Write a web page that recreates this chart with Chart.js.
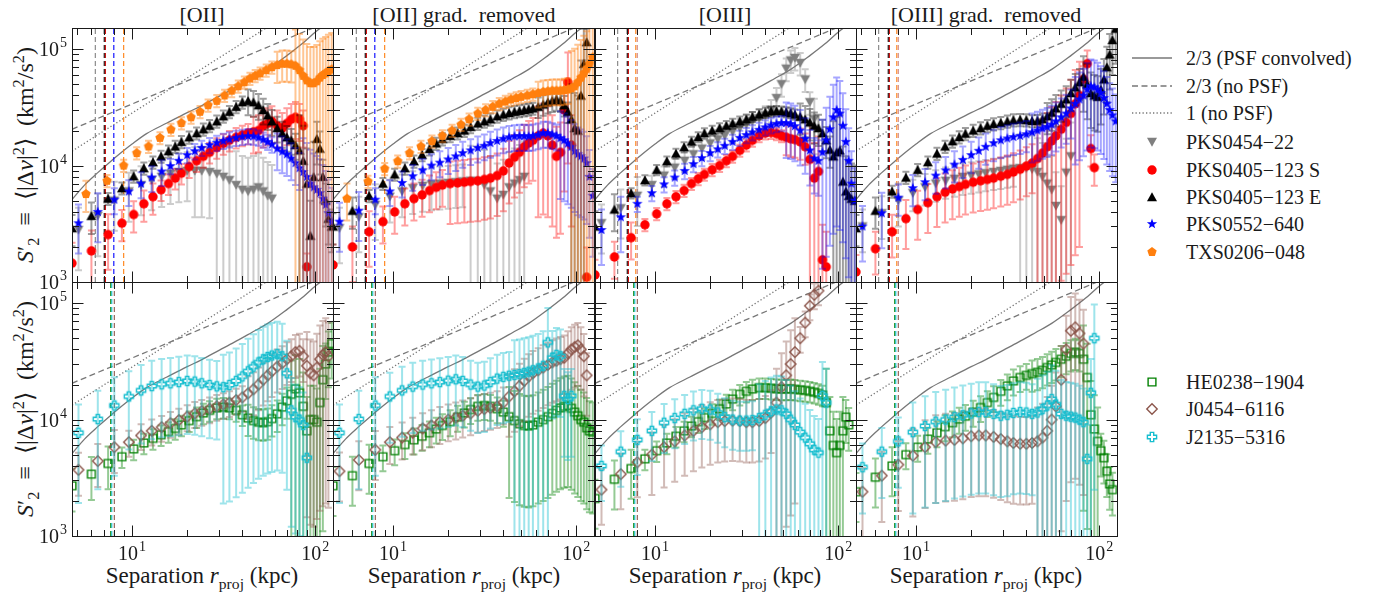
<!DOCTYPE html>
<html>
<head>
<meta charset="utf-8">
<title>Velocity structure functions</title>
<script src="https://cdn.jsdelivr.net/npm/chart.js@4.4.1/dist/chart.umd.min.js"></script>
<style>
  html, body { margin: 0; padding: 0; background: #fff; }
  body { position: relative; width: 1374px; height: 595px; overflow: hidden;
         font-family: "Liberation Serif", serif; color: #1a1a1a; }
  canvas.panel { position: absolute; }
  .txt { position: absolute; white-space: nowrap; transform: translate(-50%, -50%);
         font-family: "Liberation Serif", serif; }
  .title { font-size: 22px; }
  .ylab { font-size: 24px; transform: translate(-50%, -50%) rotate(-90deg); }
  .xlab { font-size: 23px; }
  sup, sub { font-size: 0.68em; line-height: 0; }
  .legrow { position: absolute; left: 1130px; height: 28px; display: flex; align-items: center;
            font-size: 20px; transform: translateY(-50%); font-family: "Liberation Serif", serif; }
  .legsym { width: 44px; height: 28px; display: flex; align-items: center; justify-content: center; }
  .legrow span { margin-left: 12px; }
</style>
</head>
<body>

<div class="txt title" style="left:202px;top:15px">[OII]</div>
<div class="txt title" style="left:464px;top:15px">[OII] grad.&nbsp; removed</div>
<div class="txt title" style="left:725px;top:15px">[OIII]</div>
<div class="txt title" style="left:986px;top:15px">[OIII] grad.&nbsp; removed</div>

<div class="txt ylab" style="left:25px;top:155px"><i>S</i>&prime;<sub>2</sub>&ensp;&equiv;&ensp;&lang;|&Delta;<i>v</i>|<sup>2</sup>&rang;&ensp;(km<sup>2</sup>/s<sup>2</sup>)</div>
<div class="txt ylab" style="left:25px;top:409px"><i>S</i>&prime;<sub>2</sub>&ensp;&equiv;&ensp;&lang;|&Delta;<i>v</i>|<sup>2</sup>&rang;&ensp;(km<sup>2</sup>/s<sup>2</sup>)</div>

<div class="txt xlab" style="left:202px;top:576px">Separation <i>r</i><sub>proj</sub> (kpc)</div>
<div class="txt xlab" style="left:464px;top:576px">Separation <i>r</i><sub>proj</sub> (kpc)</div>
<div class="txt xlab" style="left:725px;top:576px">Separation <i>r</i><sub>proj</sub> (kpc)</div>
<div class="txt xlab" style="left:986px;top:576px">Separation <i>r</i><sub>proj</sub> (kpc)</div>

<script>
// radial bins (kpc) of the three pixel grids
const rGridA = [4.7, 6.0, 7.4, 8.8, 10.2, 11.6, 13.0, 14.4, 15.8, 17.2, 18.6, 20.5, 22.5, 24.5, 26.5, 29, 31.5, 34, 37, 40, 43, 46, 49, 52, 55, 58, 62, 66, 70, 74, 78, 82, 86, 90, 94, 98, 102, 106, 110, 114, 118, 123];
const rGridB = [5.1, 6.5, 8.0, 9.6, 11.2, 12.8, 14.5, 16.2, 18, 20, 22, 24, 26.5, 29, 31.5, 34, 37, 40, 43, 46, 49, 52, 55, 58, 62, 66, 70, 74, 78, 82, 86, 90, 94, 98, 102, 106, 110, 114, 118, 123];
const rGridC = [5.6, 7.3, 9.0, 10.6, 12.3, 14.2, 16.3, 18.6, 21, 23.5, 26, 29, 32, 35, 38, 41, 44, 47, 50, 54, 58, 62, 66, 70, 74, 78, 82, 86, 90, 94, 98, 102, 106, 110, 114, 118, 123];

// S2' in 10^3 km^2/s^2, one value per bin (null = empty bin)
// error tables: [upper r of range, fractional 1-sigma error]

// ---- [OII]
const oii_PKS0454 = [2.8, 3.7, 5.0, 6.0, 6.8, 7.5, 8.0, 8.5, 8.8, 9.0, 9.0, 9.0, 8.8, 8.5, 8.0, 7.5, 6.8, 6.2, 6.0, 6.2, 6.5, 6.0, 5.5, 5.2];
const oii_PKS0405S = [1.45, 1.85, 2.55, 3.2, 3.8, 4.7, 5.4, 6.2, 7.0, 7.8, 8.6, 9.8, 11.0, 12.0, 13.0, 14.3, 15.5, 16.5, 17.5, 18.3, 19.0, 19.5, 20.0, 22, 23, 24, 22, 21, 23, 25, 26, 25, 22, 1.35];
const oii_PKS0405E = [2.9, 3.7, 5.2, 6.4, 8.1, 9.5, 10.7, 12.0, 13.3, 14.6, 16.0, 17.5, 19, 20.5, 22, 24, 26.5, 29, 32, 35, 36, 35, 33, 30, 27, 24, 21, 19, 17.5, 16.5, 15, 13.5, 11, 7, 2.5, 8, 17, 14, 8, 5, 3.5, 3.0];
const oii_PKS0552 = [3.2, 4.0, 5.1, 6.0, 7.0, 7.9, 8.9, 9.9, 11, 12.3, 13.3, 14.2, 15, 15.7, 16.3, 16.8, 17.3, 17.7, 17.9, 17.8, 17.4, 16.7, 16, 15.2, 14.0, 13.2, 12.5, 11.5, 10.5, 9.5, 8.8, 8, 7, 6.5, 6.2, 5.8, 5.2, 4.6, 3.9, 3.3];
const oii_TXS0206 = [5.7, 7.4, 10.0, 12.8, 14.6, 17.3, 20.4, 23.2, 26, 29, 33, 36, 40, 44, 48, 52, 56, 59, 62, 66, 70, 73, 75, 75, 74, 72, 66, 59, 54, 51, 51, 53, 57, 60, 62, 65, 67];
const oiiErr_PKS0454 = [[7, 0.55], [20, 0.45], [28, 0.6], [200, 0.95]];
const oiiErr_PKS0405S = [[8, 0.5], [14, 0.3], [45, 0.2], [87, 0.35], [200, 0.3]];
const oiiErr_PKS0405E = [[7, 0.3], [40, 0.12], [80, 0.25], [100, 1.0], [200, 0.4]];
const oiiErr_PKS0552 = [[7, 0.45], [15, 0.25], [60, 0.15], [85, 0.35], [200, 0.95]];
const oiiErr_TXS0206 = [[7, 0.3], [60, 0.12], [75, 0.3], [200, 1.05]];

// ---- [OII] gradient removed
const oiiG_PKS0454 = [2.9, 3.6, 4.6, 5.4, 6.0, 6.4, 6.7, 6.9, 7.0, 7.1, 7.2, 7.3, 7.4, 7.3, 6.8, 6.0, 5.2, 5.6, 6.5, 7.0, 7.5, 8.0];
const oiiG_PKS0405S = [1.4, 2.0, 2.7, 3.3, 4.0, 4.7, 5.2, 5.6, 6.1, 6.5, 6.8, 7.0, 7.1, 7.2, 7.3, 7.4, 7.6, 7.8, 8.2, 9.0, 10.5, 11.8, 13, 14.5, 15.6, 16.5, 18, 19, 18, 15, 12, 13, 30, 52, 15, null, null, null, null, 1.1];
const oiiG_PKS0405E = [3.0, 4.1, 5.5, 7.0, 8.4, 9.5, 10.9, 12.4, 13.9, 15.5, 16.9, 18, 19, 20, 21.5, 23, 24, 25, 26.5, 27.5, 28.3, 29, 29.5, 30, 30.5, 31, 32, 33.5, 35, 36, 37, 36, 33, 29, 25, 21, 20, 40, 75, 115];
const oiiG_PKS0552 = [3.3, 4.1, 5.1, 6.0, 7.1, 8.1, 9.1, 10, 10.6, 11.3, 12, 12.8, 13.5, 14.2, 14.8, 15.6, 16.3, 17, 17.5, 17.8, 17.9, 17.9, 17.8, 18, 18.4, 19, 19, 18.5, 18, 17.2, 16.5, 15.5, 14.5, 13.3, 12.5, 12, 11.5, 10.5, 8, 5.5];
const oiiG_TXS0206 = [5.2, 7.3, 9.4, 10.9, 12.8, 14.6, 16.2, 18, 20, 22.5, 25, 28, 30, 32, 34, 35.5, 37, 38, 39, 40, 41, 42, 43, 43.5, 44, 44, 44, 44.5, 45, 46, 48, 52, 57, 62, 68, 75, 85];
const oiiGErr_PKS0454 = [[8, 0.5], [25, 0.4], [200, 1.0]];
const oiiGErr_PKS0405S = [[8, 0.5], [20, 0.35], [60, 0.55], [200, 0.8]];
const oiiGErr_PKS0405E = [[7, 0.3], [60, 0.12], [90, 0.2], [110, 1.0], [200, 0.3]];
const oiiGErr_PKS0552 = [[7, 0.45], [20, 0.25], [80, 0.25], [200, 0.7]];
const oiiGErr_TXS0206 = [[7, 0.35], [60, 0.12], [92, 0.25], [200, 1.1]];

// ---- [OIII]
const oiii_PKS0454 = [3.2, 4.3, 5.5, 6.8, 8.2, 9.6, 11, 12.5, 14, 15.5, 16.8, 18, 19.5, 21, 22.5, 24, 25.5, 27, 30, 38, 50, 68, 80, 84, 76, 55, 35, 25];
const oiii_PKS0405S = [1.15, 1.64, 2.4, 3.1, 3.85, 4.7, 5.4, 6.1, 7.0, 7.7, 8.4, 9.2, 10, 11, 12, 13.5, 15, 16.5, 18, 19, 19.2, 18.8, 18, 17.5, 17, 16.7, 16, 14.5, 11.3, 7.8, 8.9, 1.55, 1.35];
const oiii_PKS0405E = [3.0, 4.2, 5.8, 7.5, 9.2, 10.9, 12.7, 14.4, 16.1, 17.6, 19, 20, 21, 22, 23, 24, 25, 26.3, 27.5, 28.5, 29.2, 29.5, 29.3, 28.8, 28.3, 27.5, 26.3, 25, 23.5, 22, 21, 19, 16.5, 13.7, 12, 13, 13.5, 7.3, 6, 5.5, 5.2, 5.0];
const oiii_PKS0552 = [2.8, 3.6, 4.7, 5.8, 6.9, 7.9, 9, 10.3, 11.6, 12.8, 13.8, 14.8, 16, 17.3, 18.3, 19.3, 20.3, 21.3, 22.2, 22.8, 23.2, 23.2, 22.8, 21.8, 20, 17, 13.5, 11.5, 11, 13, 16.5, 20.5, 26, 30, 28, 22, 16, 11, 7, 5];
const oiiiErr_PKS0454 = [[8, 0.45], [40, 0.2], [70, 0.22], [200, 0.5]];
const oiiiErr_PKS0405S = [[8, 0.35], [50, 0.12], [66, 0.3], [200, 1.0]];
const oiiiErr_PKS0405E = [[7, 0.35], [60, 0.1], [90, 0.3], [200, 1.0]];
const oiiiErr_PKS0552 = [[7, 0.5], [50, 0.15], [80, 0.5], [200, 0.9]];

// ---- [OIII] gradient removed
const oiiiG_PKS0454 = [3.0, 3.9, 5.0, 5.8, 6.5, 7.0, 7.4, 7.7, 8.0, 8.2, 8.4, 8.6, 8.8, 9.0, 9.2, 9.4, 9.5, 9.5, 9.3, 8.8, 8.0, 7.0, 6.2, 4.5, 3.4, 8.7, 12];
const oiiiG_PKS0405S = [1.22, 1.93, 2.7, 3.5, 4.2, 4.8, 5.4, 5.9, 6.3, 6.6, 6.9, 7.2, 7.4, 7.6, 7.8, 8.1, 8.4, 8.8, 9.3, 9.9, 10.5, 11.5, 12.8, 14.5, 16.3, 18, 20.5, 23.5, 28, 34, 40, 55, 75, 14, 9.6];
const oiiiG_PKS0405E = [2.9, 4.1, 6.0, 7.9, 9.2, 10.7, 12.7, 14.6, 16.2, 17.6, 18.8, 20, 21, 22, 22.8, 23.3, 24, 24.6, 24.8, 24.6, 24.2, 24.3, 25, 26.5, 28.5, 31, 34, 37, 42, 47, 52, 58, 50, 42, 40, 39, 45, 55, 70, 90, 120, 150];
const oiiiG_PKS0552 = [3.0, 3.9, 5.3, 6.4, 7.2, 8.2, 9.1, 10.2, 11.2, 12.3, 13.4, 14.5, 15.6, 16.5, 17.1, 17.6, 18, 18.6, 19.3, 20, 20.8, 21.5, 22.5, 24, 26, 28, 31, 34, 37, 40, 45, 48, 47, 45, 42, 38, 34, 30, 27, 24];
const oiiiGErr_PKS0454 = [[8, 0.4], [35, 0.3], [200, 0.95]];
const oiiiGErr_PKS0405S = [[8, 0.4], [45, 0.45], [80, 0.95], [200, 0.3]];
const oiiiGErr_PKS0405E = [[7, 0.3], [50, 0.12], [80, 0.3], [200, 0.5]];
const oiiiGErr_PKS0552 = [[7, 0.5], [40, 0.3], [70, 0.45], [200, 0.7]];

// ---- second sample, [OII]
const oii_HE0238 = [2.7, 3.4, 4.2, 4.8, 5.6, 6.3, 6.9, 7.4, 7.9, 8.4, 9.0, 9.8, 10.6, 11.4, 12, 12.6, 12.8, 12.6, 12, 11, 10.3, 9.8, 9.5, 9.4, 9.6, 10.2, 11.2, 12.8, 14.5, 16.5, 18.4, 17, 13, 8, 10, 10, 9.5, 14, 22, 30, 38, 45];
const oii_J0454 = [3.7, 4.4, 5.8, 6.4, 7.3, 8.0, 8.6, 9.3, 9.9, 10.6, 11.3, 11.8, 12.4, 13, 13.5, 14, 14.7, 15.5, 16.8, 18.2, 20, 22, 24, 26, 28.5, 30.5, 33, 35, 38, 39, 35, 29, 25, 24, 28, 33, 36, 38, 35];
const oii_J2135 = [7.7, 10.1, 13.2, 15.8, 17.8, 19.4, 20.1, 20.5, 21, 21.5, 21.2, 20.5, 19.8, 19.3, 19, 19.8, 21.5, 23.5, 26, 28.5, 31, 33, 34.5, 35.5, 36.5, 35, 25, 12, 10.5, 10, 9, 4.7];
const oiiErr_HE0238 = [[8, 0.4], [40, 0.2], [70, 0.3], [112, 0.95], [200, 0.5]];
const oiiErr_J0454 = [[8, 0.4], [40, 0.25], [86, 0.4], [200, 0.95]];
const oiiErr_J2135 = [[8, 0.75], [30, 0.65], [200, 0.9]];

// ---- second sample, [OII] gradient removed
const oiiG_HE0238 = [2.7, 3.3, 4.2, 4.8, 5.4, 6.1, 6.7, 7.2, 7.7, 8.3, 8.9, 9.6, 10.5, 11.4, 12.2, 13, 13.2, 13, 12.4, 11.6, 10.6, 9.8, 9.2, 8.9, 8.8, 9.0, 9.5, 10, 10.6, 11.3, 12, 12.6, 13, 13.2, 12.5, 11.6, 10.8, 10, 9.5, 8.5, 8, 7.8];
const oiiG_J0454 = [3.6, 4.5, 5.5, 6.4, 7.0, 7.7, 8.4, 8.9, 9.5, 10, 10.4, 10.8, 11.3, 11.9, 12.3, 12.6, 13, 14, 15.8, 17.5, 19.5, 21.5, 23.5, 25, 26.5, 28, 29.5, 31, 32, 33, 34, 37, 40, 42, 43.5, 40, 35, 24];
const oiiG_J2135 = [7.7, 10.1, 13.2, 15.8, 17.8, 19.2, 20, 20.5, 21, 21.6, 22.2, 21.5, 20, 19.2, 19.6, 21, 22.5, 23.3, 23.8, 24.2, 24.6, 25.2, 25.8, 26.5, 27.5, 29, 46, 34, 36, 35, 16, 15, 16];
const oiiGErr_HE0238 = [[8, 0.45], [40, 0.25], [200, 0.8]];
const oiiGErr_J0454 = [[8, 0.45], [40, 0.35], [200, 0.55]];
const oiiGErr_J2135 = [[8, 0.75], [45, 0.6], [70, 0.98], [200, 0.7]];

// ---- second sample, [OIII]
const oiii_HE0238 = [2.1, 3.07, 3.8, 4.6, 5.4, 6.3, 7.2, 8.0, 8.8, 9.6, 10.4, 11.3, 12.4, 13.6, 15, 16.5, 17.5, 18.3, 18.8, 18.8, 18.6, 18.4, 18.3, 18.3, 18.4, 18.2, 18, 17.8, 17.5, 17.2, 16.8, 16.3, 14, 8, 6, 5.2, 6, 8, 10.5, 9];
const oiii_J0454 = [2.5, 3.4, 4.3, 5.0, 5.8, 6.5, 7.3, 8.0, 8.6, 9.1, 9.5, 9.7, 9.8, 9.7, 9.5, 9.5, 9.7, 10.3, 11.5, 14, 19, 24, 30, 38, 50, 68, 95, 118, 128];
const oiii_J2135 = [4.0, 5.3, 6.7, 8.0, 9.4, 10.3, 11.2, 12, 12.4, 12.2, 11.5, 10.5, 10, 9.8, 9.8, 9.9, 10.3, 11, 11.8, 12.2, 12, 11.2, 10, 9, 7.8, 7, 6.2, 5.5, 5.2, 16, 14];
const oiiiErr_HE0238 = [[8, 0.45], [40, 0.2], [85, 0.2], [106, 0.95], [200, 0.4]];
const oiiiErr_J0454 = [[8, 0.5], [44, 0.55], [58, 0.95], [200, 0.25]];
const oiiiErr_J2135 = [[8, 0.5], [35, 0.45], [200, 0.95]];

// ---- second sample, [OIII] gradient removed
const oiiiG_HE0238 = [2.4, 3.2, 4.0, 5.0, 5.8, 6.8, 7.7, 8.7, 9.4, 10.1, 10.7, 11.6, 12.7, 14, 15.5, 17.5, 19.5, 21.5, 23, 24, 24.8, 25.5, 26.5, 28, 29.5, 31, 33, 35, 37, 38, 37, 33, 23, 11, 8.3, 6.5, 5.4, 4.7, 3.6, 2.8, 2.5];
const oiiiG_J0454 = [2.4, 3.3, 4.1, 4.9, 5.8, 6.4, 6.6, 6.7, 6.9, 7.2, 7.3, 7.3, 7.1, 6.8, 6.5, 6.3, 6.2, 6.2, 6.3, 6.5, 7, 8, 10, 13, 22, 40, 58, 62, 55, 45];
const oiiiG_J2135 = [3.9, 5.3, 6.5, 7.8, 8.8, 9.6, 10, 10.5, 10.9, 11.3, 11.6, 11.6, 11.2, 10.8, 11, 11.4, 11.6, 11.5, 11.2, 11.5, 12.3, 13.2, 15, 13.5, 11.2, 10.8, 10.6, 10.4, 10, 9.5, 4.6, 17, 50];
const oiiiGErr_HE0238 = [[8, 0.45], [40, 0.25], [78, 0.3], [100, 0.95], [200, 0.4]];
const oiiiGErr_J0454 = [[8, 0.6], [45, 0.7], [200, 0.95]];
const oiiiGErr_J2135 = [[8, 0.6], [45, 0.8], [200, 0.95]];

// model curves (10^3 km^2/s^2)
const psfConvR = [4.7, 5.5, 6.5, 7.5, 8.5, 10, 12, 15.5, 20, 23.6, 30, 36, 45, 55, 70, 84, 101, 125];
const psfConvS = [5.1, 6.8, 8.7, 10.6, 12.5, 15.3, 18.8, 23.2, 28.5, 32.3, 39.5, 46, 56, 67, 88, 110, 142, 180];
const noPsf23R = [4.7, 105];
const noPsf23S = [20.5, 160];
const noPsf1R = [4.7, 55];
const noPsf1S = [13.3, 155];

// PSF FWHM markers (kpc)
const fwhmOII = [6.3, 7.05, 7.15, 7.95, 9.0];
const fwhmOIII = [6.25, 7.05, 7.15, 7.85, 8.0];
const fwhmLow = [7.65, 7.75, 8.0];

const xTickLabels = [10, 100];
const yTickLabels = [1e3, 1e4, 1e5];

const X_MIN = 4.7, X_MAX = 125, Y_MIN = 1e3, Y_MAX = 1.52e5;
const PANEL_W = 261, PANEL_H = 254;
const colLeft = [72, 333, 595, 856];
const rowTop = [28, 282];
const FONT = '"Liberation Serif", serif';

const styles = {
  PKS0454:  { label: 'PKS0454\u221222',     grid: rGridB, marker: 'v', color: '#7f7f7f', bar: 'rgba(127,127,127,0.4)' },
  PKS0405S: { label: 'PKS0405\u2212123 S',  grid: rGridA, marker: 'o', color: '#ff0000', bar: 'rgba(255,0,0,0.38)' },
  PKS0405E: { label: 'PKS0405\u2212123 E',  grid: rGridA, marker: '^', color: '#000000', bar: 'rgba(0,0,0,0.38)' },
  PKS0552:  { label: 'PKS0552\u2212640',    grid: rGridB, marker: '*', color: '#0000ff', bar: 'rgba(0,0,255,0.35)' },
  TXS0206:  { label: 'TXS0206\u2212048',    grid: rGridC, marker: 'p', color: '#ff7f0e', bar: 'rgba(255,127,14,0.45)' },
  HE0238:   { label: 'HE0238\u22121904',    grid: rGridA, marker: 's', color: '#008000', bar: 'rgba(0,128,0,0.42)' },
  J0454:    { label: 'J0454\u22126116',     grid: rGridB, marker: 'D', color: '#8c564b', bar: 'rgba(140,86,75,0.4)' },
  J2135:    { label: 'J2135\u22125316',     grid: rGridB, marker: 'P', color: '#17becf', bar: 'rgba(23,190,207,0.42)' },
};

const panels = [
  { col: 0, row: 0, fwhm: fwhmOII, fwhmColors: ['#808080', '#000000', '#cc0000', '#0000ff', '#ff7f0e'],
    series: [['PKS0454', oii_PKS0454, oiiErr_PKS0454], ['PKS0405S', oii_PKS0405S, oiiErr_PKS0405S],
             ['PKS0405E', oii_PKS0405E, oiiErr_PKS0405E], ['PKS0552', oii_PKS0552, oiiErr_PKS0552],
             ['TXS0206', oii_TXS0206, oiiErr_TXS0206]] },
  { col: 1, row: 0, fwhm: fwhmOII, fwhmColors: ['#808080', '#000000', '#cc0000', '#0000ff', '#ff7f0e'],
    series: [['PKS0454', oiiG_PKS0454, oiiGErr_PKS0454], ['PKS0405S', oiiG_PKS0405S, oiiGErr_PKS0405S],
             ['PKS0405E', oiiG_PKS0405E, oiiGErr_PKS0405E], ['PKS0552', oiiG_PKS0552, oiiGErr_PKS0552],
             ['TXS0206', oiiG_TXS0206, oiiGErr_TXS0206]] },
  { col: 2, row: 0, fwhm: fwhmOIII, fwhmColors: ['#808080', '#000000', '#cc0000', '#ff7f0e', '#d08a8a'],
    series: [['PKS0454', oiii_PKS0454, oiiiErr_PKS0454], ['PKS0405S', oiii_PKS0405S, oiiiErr_PKS0405S],
             ['PKS0405E', oiii_PKS0405E, oiiiErr_PKS0405E], ['PKS0552', oiii_PKS0552, oiiiErr_PKS0552]] },
  { col: 3, row: 0, fwhm: fwhmOIII, fwhmColors: ['#808080', '#000000', '#cc0000', '#ff7f0e', '#d08a8a'],
    series: [['PKS0454', oiiiG_PKS0454, oiiiGErr_PKS0454], ['PKS0405S', oiiiG_PKS0405S, oiiiGErr_PKS0405S],
             ['PKS0405E', oiiiG_PKS0405E, oiiiGErr_PKS0405E], ['PKS0552', oiiiG_PKS0552, oiiiGErr_PKS0552]] },
  { col: 0, row: 1, fwhm: fwhmLow, fwhmColors: ['#008000', '#17becf', '#8c564b'],
    series: [['HE0238', oii_HE0238, oiiErr_HE0238], ['J0454', oii_J0454, oiiErr_J0454], ['J2135', oii_J2135, oiiErr_J2135]] },
  { col: 1, row: 1, fwhm: fwhmLow, fwhmColors: ['#008000', '#17becf', '#8c564b'],
    series: [['HE0238', oiiG_HE0238, oiiGErr_HE0238], ['J0454', oiiG_J0454, oiiGErr_J0454], ['J2135', oiiG_J2135, oiiGErr_J2135]] },
  { col: 2, row: 1, fwhm: fwhmLow, fwhmColors: ['#008000', '#17becf', '#8c564b'],
    series: [['HE0238', oiii_HE0238, oiiiErr_HE0238], ['J0454', oiii_J0454, oiiiErr_J0454], ['J2135', oiii_J2135, oiiiErr_J2135]] },
  { col: 3, row: 1, fwhm: fwhmLow, fwhmColors: ['#008000', '#17becf', '#8c564b'],
    series: [['HE0238', oiiiG_HE0238, oiiiGErr_HE0238], ['J0454', oiiiG_J0454, oiiiGErr_J0454], ['J2135', oiiiG_J2135, oiiiGErr_J2135]] },
];

// small offscreen canvases used as point styles
function makeMarker(kind, color) {
  const s = 14;
  const c = document.createElement('canvas');
  c.width = s; c.height = s;
  const g = c.getContext('2d');
  g.translate(s / 2, s / 2);
  g.fillStyle = color;
  g.strokeStyle = color;
  g.lineWidth = 1.4;
  g.beginPath();
  if (kind === 'v') {
    g.moveTo(-5, -4.3); g.lineTo(5, -4.3); g.lineTo(0, 4.8); g.closePath(); g.fill();
  } else if (kind === '^') {
    g.moveTo(-5, 4.3); g.lineTo(5, 4.3); g.lineTo(0, -4.8); g.closePath(); g.fill();
  } else if (kind === 'o') {
    g.arc(0, 0, 4.7, 0, Math.PI * 2); g.fill();
  } else if (kind === '*') {
    for (let k = 0; k < 10; k++) {
      const rad = k % 2 === 0 ? 5.4 : 2.2;
      const a = -Math.PI / 2 + k * Math.PI / 5;
      k === 0 ? g.moveTo(rad * Math.cos(a), rad * Math.sin(a)) : g.lineTo(rad * Math.cos(a), rad * Math.sin(a));
    }
    g.closePath(); g.fill();
  } else if (kind === 'p') {
    for (let k = 0; k < 5; k++) {
      const a = -Math.PI / 2 + k * 2 * Math.PI / 5;
      k === 0 ? g.moveTo(4.9 * Math.cos(a), 4.9 * Math.sin(a)) : g.lineTo(4.9 * Math.cos(a), 4.9 * Math.sin(a));
    }
    g.closePath(); g.fill();
  } else if (kind === 's') {
    g.rect(-3.9, -3.9, 7.8, 7.8); g.stroke();
  } else if (kind === 'D') {
    g.moveTo(0, -5.2); g.lineTo(5.2, 0); g.lineTo(0, 5.2); g.lineTo(-5.2, 0); g.closePath(); g.stroke();
  } else if (kind === 'P') {
    const w = 1.7, l = 4.6;
    g.moveTo(-w, -l); g.lineTo(w, -l); g.lineTo(w, -w); g.lineTo(l, -w); g.lineTo(l, w); g.lineTo(w, w);
    g.lineTo(w, l); g.lineTo(-w, l); g.lineTo(-w, w); g.lineTo(-l, w); g.lineTo(-l, -w); g.lineTo(-w, -w);
    g.closePath(); g.stroke();
  }
  return c;
}

function fracAt(table, r) {
  for (const [rMax, f] of table) if (r <= rMax) return f;
  return table[table.length - 1][1];
}

// error bars, drawn just before each series so later series sit on top
const errorBars = {
  id: 'errorBars',
  beforeDatasetDraw(chart, args) {
    const ds = chart.data.datasets[args.index];
    if (!ds.errFrac) return;
    const { ctx, chartArea: a, scales: { x, y } } = chart;
    ctx.save();
    ctx.beginPath();
    ctx.rect(a.left, a.top, a.right - a.left, a.bottom - a.top);
    ctx.clip();
    ctx.strokeStyle = ds.barColor;
    ctx.lineWidth = 2;
    ds.data.forEach((p, i) => {
      const f = ds.errFrac[i];
      const px = x.getPixelForValue(p.x);
      const yTop = y.getPixelForValue(p.y * (1 + f));
      const lo = p.y * (1 - f);
      const yBot = lo > 0 ? y.getPixelForValue(lo) : a.bottom + 10;
      ctx.beginPath();
      ctx.moveTo(px, yTop); ctx.lineTo(px, yBot);
      ctx.moveTo(px - 3.5, yTop); ctx.lineTo(px + 3.5, yTop);
      if (lo > 0) { ctx.moveTo(px - 3.5, yBot); ctx.lineTo(px + 3.5, yBot); }
      ctx.stroke();
    });
    ctx.restore();
  }
};

function drawPow(ctx, exp, x, y, align) {
  ctx.font = '20px ' + FONT;
  const wb = ctx.measureText('10').width;
  ctx.font = '14px ' + FONT;
  const we = ctx.measureText(String(exp)).width;
  const x0 = align === 'right' ? x - wb - we - 1 : x - (wb + we + 1) / 2;
  ctx.textAlign = 'left';
  ctx.textBaseline = 'alphabetic';
  ctx.font = '20px ' + FONT;
  ctx.fillText('10', x0, y);
  ctx.font = '14px ' + FONT;
  ctx.fillText(String(exp), x0 + wb + 1, y - 9);
}

// frame, inward log ticks on all four sides, tick labels on outer panels
const frame = {
  id: 'frame',
  afterDraw(chart, args, opts) {
    const { ctx, chartArea: a, scales: { x, y } } = chart;
    ctx.save();
    ctx.strokeStyle = '#1a1a1a';
    ctx.fillStyle = '#1a1a1a';
    ctx.lineWidth = 1;
    const L = a.left + 0.5, R = a.right + 0.5, T = a.top + 0.5, B = a.bottom + 0.5;
    ctx.strokeRect(L, T, R - L, B - T);
    ctx.beginPath();
    for (let d = 0; d <= 2; d++) {
      for (let m = 1; m <= 9; m++) {
        const v = m * Math.pow(10, d);
        if (v < X_MIN || v > X_MAX) continue;
        const len = m === 1 ? 11 : 6.5;
        const px = Math.round(x.getPixelForValue(v)) + 0.5;
        ctx.moveTo(px, B); ctx.lineTo(px, B - len);
        ctx.moveTo(px, T); ctx.lineTo(px, T + len);
      }
    }
    for (let d = 3; d <= 5; d++) {
      for (let m = 1; m <= 9; m++) {
        const v = m * Math.pow(10, d);
        if (v < Y_MIN || v > Y_MAX) continue;
        const len = m === 1 ? 11 : 6.5;
        const py = Math.round(y.getPixelForValue(v)) + 0.5;
        ctx.moveTo(L, py); ctx.lineTo(L + len, py);
        ctx.moveTo(R, py); ctx.lineTo(R - len, py);
      }
    }
    ctx.stroke();
    if (opts.yLabels) {
      yTickLabels.forEach(v => drawPow(ctx, Math.round(Math.log10(v)), a.left - 5, y.getPixelForValue(v) + 7, 'right'));
    }
    if (opts.xLabels) {
      xTickLabels.forEach(v => drawPow(ctx, Math.round(Math.log10(v)), x.getPixelForValue(v), a.bottom + 24, 'center'));
    }
    ctx.restore();
  }
};

function lineSet(rs, ss, color, dash, width) {
  return {
    data: rs.map((r, i) => ({ x: r, y: ss[i] * 1e3 })),
    showLine: true, pointRadius: 0, borderColor: color, borderWidth: width,
    borderDash: dash, cubicInterpolationMode: 'monotone', clip: 0,
  };
}

const markerCache = {};
function markerFor(key) {
  if (!markerCache[key]) markerCache[key] = makeMarker(styles[key].marker, styles[key].color);
  return markerCache[key];
}

panels.forEach(p => {
  const padL = p.col === 0 ? 72 : 8, padR = 8, padT = 8, padB = p.row === 1 ? 40 : 8;
  const canvas = document.createElement('canvas');
  canvas.className = 'panel';
  canvas.width = PANEL_W + padL + padR;
  canvas.height = PANEL_H + padT + padB;
  canvas.style.left = (colLeft[p.col] - padL) + 'px';
  canvas.style.top = (rowTop[p.row] - padT) + 'px';
  canvas.style.width = canvas.width + 'px';
  canvas.style.height = canvas.height + 'px';
  document.body.appendChild(canvas);

  const datasets = [
    lineSet(psfConvR, psfConvS, '#777777', [], 1.3),
    lineSet(noPsf23R, noPsf23S, '#777777', [6, 3.5], 1.3),
    lineSet(noPsf1R, noPsf1S, '#777777', [1.3, 2.2], 1.3),
  ];
  p.fwhm.forEach((r, i) => {
    datasets.push({
      data: [{ x: r, y: Y_MIN }, { x: r, y: Y_MAX }],
      showLine: true, pointRadius: 0, borderColor: p.fwhmColors[i], borderWidth: 1.1,
      borderDash: [5, 3], clip: 0,
    });
  });
  p.series.forEach(([key, s2, errTable]) => {
    const st = styles[key];
    const pts = [], fr = [];
    s2.forEach((v, i) => {
      if (v == null) return;
      pts.push({ x: st.grid[i], y: v * 1e3 });
      fr.push(fracAt(errTable, st.grid[i]));
    });
    datasets.push({
      label: st.label, data: pts, errFrac: fr, barColor: st.bar,
      pointStyle: markerFor(key), pointRadius: 5, showLine: false, clip: 0,
    });
  });
  datasets.forEach((d, i) => { d.order = -i; });

  new Chart(canvas, {
    type: 'scatter',
    data: { datasets },
    options: {
      responsive: false, animation: false, devicePixelRatio: 1, events: [],
      layout: { padding: { left: padL, right: padR, top: padT, bottom: padB } },
      scales: {
        x: { type: 'logarithmic', min: X_MIN, max: X_MAX, display: false },
        y: { type: 'logarithmic', min: Y_MIN, max: Y_MAX, display: false },
      },
      plugins: {
        legend: { display: false }, tooltip: { enabled: false },
        frame: { yLabels: p.col === 0, xLabels: p.row === 1 },
      },
    },
    plugins: [errorBars, frame],
  });
});

// legend column on the right
function legendRow(top, symbol, text) {
  const row = document.createElement('div');
  row.className = 'legrow';
  row.style.top = top + 'px';
  const sym = document.createElement('div');
  sym.className = 'legsym';
  sym.appendChild(symbol);
  const label = document.createElement('span');
  label.textContent = text;
  row.appendChild(sym);
  row.appendChild(label);
  document.body.appendChild(row);
}
function lineSymbol(dash) {
  const ns = 'http://www.w3.org/2000/svg';
  const svg = document.createElementNS(ns, 'svg');
  svg.setAttribute('width', '42'); svg.setAttribute('height', '6');
  const ln = document.createElementNS(ns, 'line');
  ln.setAttribute('x1', '1'); ln.setAttribute('x2', '41');
  ln.setAttribute('y1', '3'); ln.setAttribute('y2', '3');
  ln.setAttribute('stroke', '#777'); ln.setAttribute('stroke-width', '1.4');
  if (dash) ln.setAttribute('stroke-dasharray', dash);
  svg.appendChild(ln);
  return svg;
}
legendRow(58, lineSymbol(null), '2/3 (PSF convolved)');
legendRow(86, lineSymbol('6 3.5'), '2/3 (no PSF)');
legendRow(113, lineSymbol('1.3 2.2'), '1 (no PSF)');
const legTop = [['PKS0454', 142], ['PKS0405S', 170], ['PKS0405E', 197], ['PKS0552', 224], ['TXS0206', 252],
                ['HE0238', 382], ['J0454', 409], ['J2135', 437]];
legTop.forEach(([key, top]) => legendRow(top, makeMarker(styles[key].marker, styles[key].color), styles[key].label));
</script>
</body>
</html>
